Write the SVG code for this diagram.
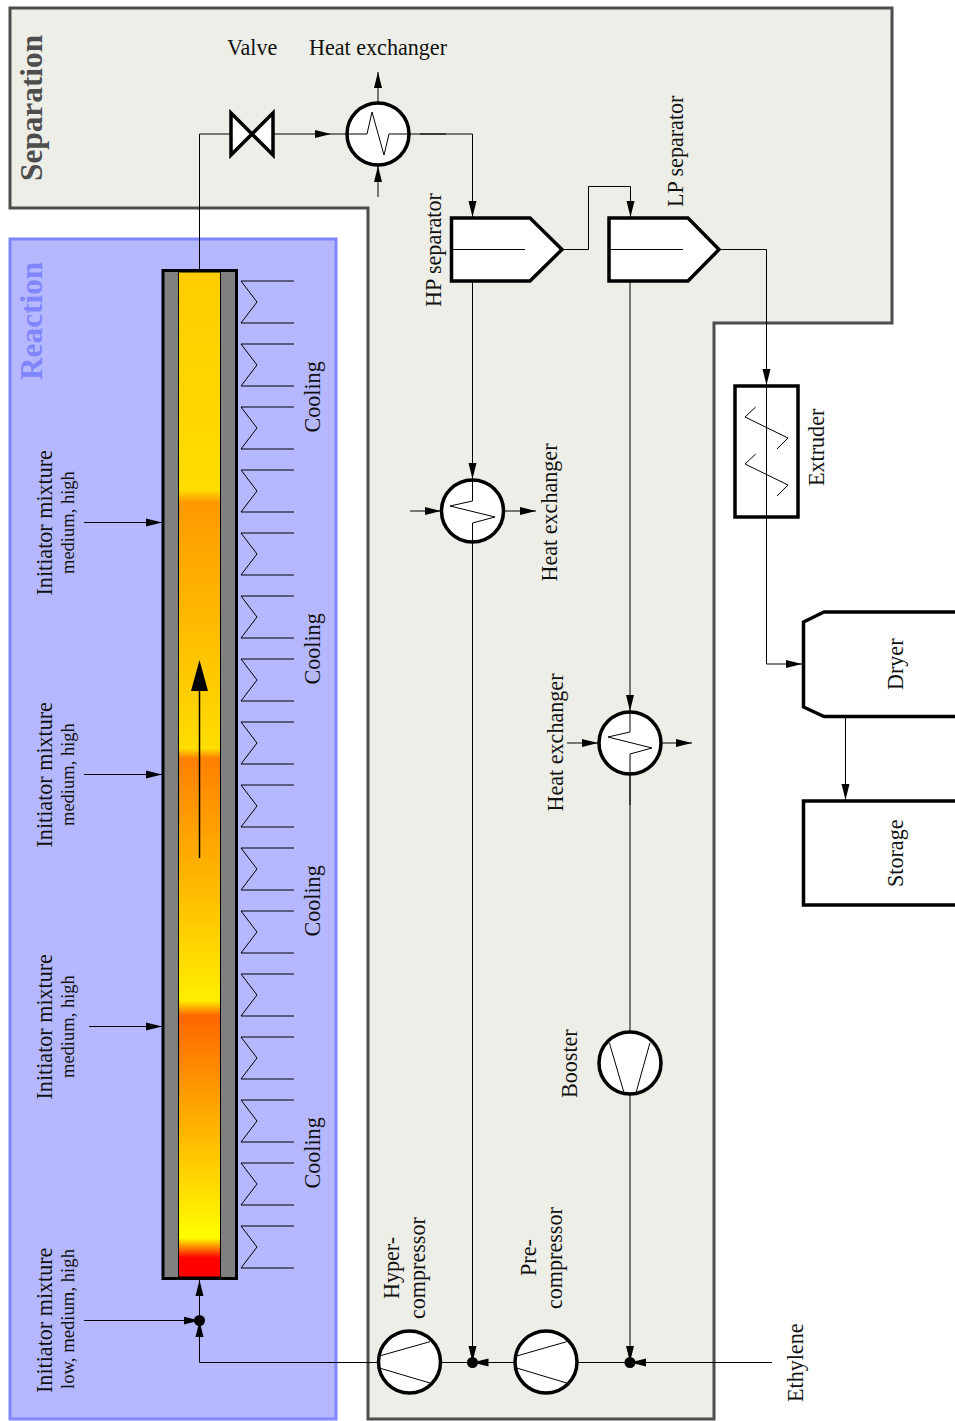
<svg xmlns="http://www.w3.org/2000/svg" width="955" height="1421" viewBox="0 0 955 1421">
<style>
text{font-family:"Liberation Serif","Times New Roman",serif;fill:#111}
.l{font-size:22.1px}
.s{font-size:18.5px}
.t{font-size:31.3px;font-weight:bold}
.eq{fill:#fff;stroke:#000;stroke-width:3.5}
.c{fill:none;stroke:#000;stroke-width:1}
.e{fill:none;stroke:#000;stroke-width:1;marker-end:url(#a)}
.coil{fill:none;stroke:#000;stroke-width:1}
</style>
<defs>
<marker id="a" markerUnits="userSpaceOnUse" markerWidth="17" markerHeight="10" refX="16" refY="5" orient="auto"><path d="M0,1 L16,5 L0,9z" fill="#000"/></marker>
<linearGradient id="g" x1="0" y1="1" x2="0" y2="0">
<stop offset="0" stop-color="#ff0000"/>
<stop offset="0.019" stop-color="#ff0000"/>
<stop offset="0.039" stop-color="#ffff00"/>
<stop offset="0.26" stop-color="#ff6600"/>
<stop offset="0.275" stop-color="#ffee00"/>
<stop offset="0.516" stop-color="#ff8000"/>
<stop offset="0.526" stop-color="#ffdd00"/>
<stop offset="0.771" stop-color="#ff9900"/>
<stop offset="0.783" stop-color="#ffdd00"/>
<stop offset="1" stop-color="#ffcc00"/>
</linearGradient>
<g id="coil"><path class="coil" d="M294,0 H241 L257,21 L241,42 H294"/></g>
</defs>

<g id="separation-zone">
<path d="M10,8 H892 V323 H714 V1419 H368 V208 H10Z" fill="#eeeee8" stroke="#4d4d4d" stroke-width="3"/>
<text class="t" transform="translate(41.500,181) rotate(-90)" style="fill:#4d4d4d">Separation</text>
</g>
<g id="reaction-zone">
<rect x="10" y="239" width="326" height="1180" fill="#b5b8ff" stroke="#7f86ff" stroke-width="3"/>
<text class="t" transform="translate(41.500,380) rotate(-90)" style="fill:#7f86ff">Reaction</text>
</g>

<g id="reactor">
<rect x="163" y="270.500" width="73.500" height="1008" fill="#808080" stroke="#000" stroke-width="3"/>
<rect x="178.500" y="272" width="42" height="1005" fill="url(#g)" stroke="#000" stroke-width="1"/>
<path d="M199.500,858 V690" fill="none" stroke="#000" stroke-width="1.500"/>
<path d="M199.500,660 L208,691 H191Z" fill="#000"/>
</g>
<g id="cooling">
<use href="#coil" y="281"/><use href="#coil" y="344"/><use href="#coil" y="407"/><use href="#coil" y="470"/>
<use href="#coil" y="533"/><use href="#coil" y="596"/><use href="#coil" y="659"/><use href="#coil" y="722"/>
<use href="#coil" y="785"/><use href="#coil" y="848"/><use href="#coil" y="911"/><use href="#coil" y="974"/>
<use href="#coil" y="1037"/><use href="#coil" y="1100"/><use href="#coil" y="1163"/><use href="#coil" y="1226"/>
<text class="l" transform="translate(320,432.500) rotate(-90)">Cooling</text>
<text class="l" transform="translate(320,684.500) rotate(-90)">Cooling</text>
<text class="l" transform="translate(320,936.500) rotate(-90)">Cooling</text>
<text class="l" transform="translate(320,1188.500) rotate(-90)">Cooling</text>
</g>
<g id="initiators">
<text class="l" transform="translate(52,595.500) rotate(-90)">Initiator mixture</text>
<text class="s" transform="translate(74,574) rotate(-90)">medium, high</text>
<text class="l" transform="translate(52,847.500) rotate(-90)">Initiator mixture</text>
<text class="s" transform="translate(74,826) rotate(-90)">medium, high</text>
<text class="l" transform="translate(52,1099.500) rotate(-90)">Initiator mixture</text>
<text class="s" transform="translate(74,1078) rotate(-90)">medium, high</text>
<text class="l" transform="translate(52,1393) rotate(-90)">Initiator mixture</text>
<text class="s" transform="translate(74,1389) rotate(-90)" style="font-size:18.700px">low, medium, high</text>
</g>

<g id="valve">
<path class="eq" d="M231,113 L273,155 V113 L231,155Z"/>
<text class="l" x="227" y="55">Valve</text>
</g>
<g id="hx1">
<circle class="eq" cx="378" cy="134" r="31"/>
<path class="c" d="M346,134 H367 L372,112 L384,155 L389,134 H410"/>
<text class="l" x="309" y="55">Heat exchanger</text>
</g>
<g id="hp-separator">
<path class="eq" d="M451.500,218 H530 L562,249.500 L530,281 H451.500Z"/>
<path class="c" d="M451,249.500 H525"/>
<text class="l" transform="translate(440.500,307) rotate(-90)">HP separator</text>
</g>
<g id="lp-separator">
<path class="eq" d="M609,218 H688 L719,249.500 L688,281 H609Z"/>
<path class="c" d="M609,249.500 H683"/>
<text class="l" transform="translate(682.500,207) rotate(-90)">LP separator</text>
</g>
<g id="hx2">
<circle class="eq" cx="472.500" cy="511" r="31"/>
<path class="c" d="M472.500,480 V501 L450,506 L495,517 L472.500,523 V542"/>
<text class="l" transform="translate(556.500,581.500) rotate(-90)">Heat exchanger</text>
</g>
<g id="hx3">
<circle class="eq" cx="630" cy="743" r="31"/>
<path class="c" d="M630,712 V732 L608,737 L652,748 L630,754 V774"/>
<text class="l" transform="translate(562.500,811.500) rotate(-90)">Heat exchanger</text>
</g>
<g id="extruder">
<rect class="eq" x="735" y="386" width="63" height="131"/>
<path class="c" d="M755.700,407 L745,417 L788,438 L777,449"/>
<path class="c" d="M755.700,454 L745,464 L788,485 L777,496"/>
<text class="l" transform="translate(824,486) rotate(-90)">Extruder</text>
</g>
<g id="dryer">
<path class="eq" d="M965,612 H824 L803.500,622 V707 L824,716.500 H965"/>
<text class="l" transform="translate(903,690) rotate(-90)">Dryer</text>
</g>
<g id="storage">
<path class="eq" d="M965,801 H803.500 V905 H965"/>
<text class="l" transform="translate(903,887) rotate(-90)">Storage</text>
</g>
<g id="booster">
<circle class="eq" cx="630" cy="1063" r="31"/>
<path class="c" d="M609.300,1042.700 L624,1092.700 M650,1042.700 L636,1092.700"/>
<text class="l" transform="translate(577,1098) rotate(-90)">Booster</text>
</g>
<g id="precompressor">
<circle class="eq" cx="546" cy="1362" r="31"/>
<path class="c" d="M516.700,1356 L566.700,1341.700 M516.700,1368 L566.700,1383"/>
<text class="l" transform="translate(535.500,1276) rotate(-90)">Pre-</text>
<text class="l" transform="translate(562,1309) rotate(-90)">compressor</text>
</g>
<g id="hypercompressor">
<circle class="eq" cx="409.500" cy="1362" r="31"/>
<path class="c" d="M379.300,1356 L430,1341.700 M379.300,1368 L430,1383"/>
<text class="l" transform="translate(398.500,1299) rotate(-90)">Hyper-</text>
<text class="l" transform="translate(425,1319) rotate(-90)">compressor</text>
</g>
<g id="ethylene">
<text class="l" transform="translate(803,1402) rotate(-90)">Ethylene</text>
</g>

<g id="connectors">
<path class="c" d="M199.500,270 V134 H230"/>
<path class="e" d="M274,134 H331"/>
<path class="c" d="M331,134 H346"/>
<path class="e" d="M378,102 V72"/>
<path class="e" d="M378,197 V166"/>
<path class="e" d="M410,134 H472.500 V217"/>
<path class="c" d="M420,134 H446"/>
<path class="e" d="M563,249.500 H588.500 V186.500 H630.500 V217"/>
<path class="e" d="M720,249.500 H766.500 V385"/>
<path class="e" d="M766.500,385 V664 H802"/>
<path class="e" d="M472.500,281 V479"/>
<path class="e" d="M410,511 H441"/>
<path class="e" d="M504,511 H536"/>
<path class="e" d="M472.500,542 V1362"/>
<path class="c" d="M630,281 V680"/>
<path class="e" d="M630,680 V711"/>
<path class="e" d="M567,743 H598"/>
<path class="e" d="M662,743 H692"/>
<path class="c" d="M630,775 V1032"/>
<path class="c" d="M630,775 V805"/>
<path class="e" d="M630,1094 V1362"/>
<path class="e" d="M845.500,717 V800"/>
<path class="e" d="M772,1362.500 H630"/>
<path class="c" d="M630,1362.500 H577"/>
<path class="e" d="M515,1362.500 H472.500"/>
<path class="c" d="M472.500,1362.500 H441"/>
<path class="e" d="M378,1362.500 H199.500 V1321"/>
<path class="e" d="M199.500,1320 V1280"/>
<path class="e" d="M84,1320.500 H199.500"/>
<path class="e" d="M84,522.500 H162"/>
<path class="e" d="M84,774.500 H162"/>
<path class="e" d="M89,1026.500 H162"/>
<circle cx="199.500" cy="1320.500" r="5.500"/>
<circle cx="472.500" cy="1362.500" r="5.500"/>
<circle cx="630" cy="1362.500" r="5.500"/>
</g>
</svg>
